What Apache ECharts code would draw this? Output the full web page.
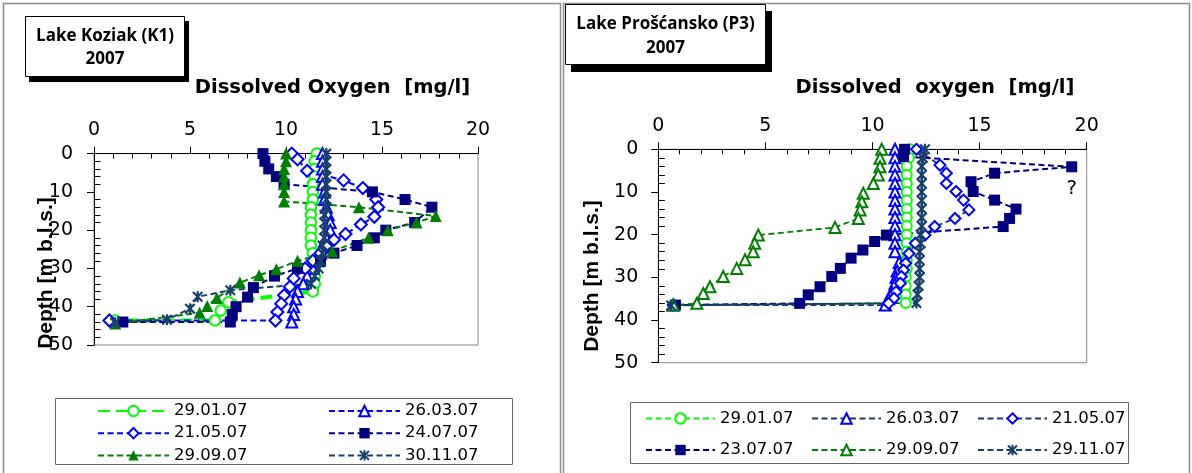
<!DOCTYPE html>
<html><head><meta charset="utf-8">
<script src="https://cdn.jsdelivr.net/npm/echarts@6/dist/echarts.min.js"></script>
<style>html,body{margin:0;padding:0;background:#fff}#c{width:1192px;height:473px}</style>
</head><body><div id="c"></div>
<script>
// ---------- axis ticks ----------
const doTicks = [0, 5, 10, 15, 20];
const depthTicks = [0, 10, 20, 30, 40, 50];
const doMinorSplit = 5;     // minor tick every 1 mg/l
const depthMinorSplit = 5;  // minor tick every 2 m

// ---------- Lake Koziak (K1) 2007 ----------
const k1Names = ['29.01.07', '26.03.07', '21.05.07', '24.07.07', '29.09.07', '30.11.07'];
const k1_2901_depth = [0,2,4,6,8,10,12,14,16,18,20,22,24,26,28,30,32,34,36,38.8,41,43.6,43.6];
const k1_2901_do    = [11.6,11.5,11.5,11.5,11.4,11.4,11.4,11.3,11.3,11.3,11.3,11.3,11.3,11.4,11.4,11.5,11.5,11.5,11.4,7.0,6.6,6.3,1.1];
const k1_2603_depth = [0,2,4,6,8,10,12,14,16,18,20,22,24,26,28,30,32,34,36,38,40,42,44];
const k1_2603_do    = [11.9,11.9,11.9,11.9,11.9,12.0,12.0,12.1,12.2,12.3,12.3,12.1,11.9,11.8,11.7,11.4,11.1,10.9,10.6,10.5,10.4,10.4,10.3];
const k1_2105_depth = [0,1.5,4.5,7,9,12,14,16.5,18.5,21,22.5,24.2,26,28,30,32.6,34.8,37,39.2,41.4,43.6,43.6];
const k1_2105_do    = [10.3,10.6,11.1,13.0,14.0,14.7,14.8,14.6,13.9,13.1,12.5,12.1,11.8,11.4,11.0,10.4,10.2,9.9,9.75,9.55,9.45,0.8];
const k1_2407_depth = [0,2,4,6,8,10,12,14,18,20,22,24,26,28,30,32,35,37.5,40,42,44,44];
const k1_2407_do    = [8.8,8.9,9.1,9.5,9.9,14.5,16.2,17.6,16.7,15.2,14.6,13.7,12.5,11.8,10.6,9.4,8.3,8.0,7.4,7.2,7.1,1.5];
const k1_2909_depth = [0,2,4,6,8,10,12.5,14,16.3,18,20,22,25.5,28,30.2,31.8,33.7,37.7,39.8,41.6,44.4];
const k1_2909_do    = [10.0,10.0,9.9,9.9,9.9,9.9,9.9,13.8,17.8,16.8,15.3,14.3,12.4,10.6,9.5,8.6,7.6,6.4,5.9,5.5,1.1];
const k1_3011_depth = [0,2,4,6,8,10,12,14,16,18,20,22,24,26,28,30,32,34,35.7,37.4,40.5,43.4,44.2];
const k1_3011_do    = [12.1,12.1,12.1,12.1,12.1,12.1,12.1,12.1,12.0,12.0,12.0,12.0,11.9,11.9,11.8,11.7,11.5,11.3,7.1,5.4,5.0,3.8,1.1];

// ---------- Lake Prošćansko (P3) 2007 ----------
const p3Names = ['29.01.07', '26.03.07', '21.05.07', '23.07.07', '29.09.07', '29.11.07'];
const p3_2901_depth = [0,2,4,6,8,10,12,14,16,18,20,22,24,26,28,30,32,34,36,36.5];
const p3_2901_do    = [11.75,11.7,11.6,11.6,11.6,11.6,11.6,11.6,11.6,11.6,11.6,11.6,11.6,11.6,11.6,11.55,11.55,11.55,11.55,0.7];
const p3_2603_depth = [0,2,4,6,8,10,12,14,16,18,20,22,24,26.5,28.5,30,31.5,33.5,35,36.5,36.5];
const p3_2603_do    = [11.05,11.05,11.05,11.05,11.05,11.05,11.05,11.05,11.05,11.05,11.05,11.05,11.05,11.25,11.15,11.1,11.05,10.9,10.75,10.6,0.7];
const p3_2105_depth = [0,3.7,5.6,8,9.9,11.9,14.2,16.2,18.1,20.1,22,24.4,26.7,28.3,29.8,31.4,33.4,34.9,36.1,36.5];
const p3_2105_do    = [12.05,13.15,13.45,13.45,13.9,14.25,14.5,13.85,12.9,12.45,12.0,11.7,11.55,11.45,11.35,11.3,11.1,11.0,10.75,0.7];
const p3_2307_depth = [0,1.7,4.1,5.6,7.6,9.9,11.9,14,16.2,18.1,20.1,21.6,23.6,25.5,27.9,29.8,32.2,34.1,36.1,36.5];
const p3_2307_do    = [11.5,11.45,19.3,15.7,14.6,14.7,15.7,16.7,16.4,16.1,10.65,10.1,9.55,9.0,8.5,8.1,7.55,7.0,6.6,0.8];
const p3_2909_depth = [0,2.1,4.1,6,8,10.3,12.3,14.2,16.2,18.3,20.1,22,24,25.9,27.9,29.8,32.2,33.8,36.1,36.5];
const p3_2909_do    = [10.43,10.35,10.35,10.27,10.04,9.57,9.5,9.42,9.34,8.25,4.67,4.5,4.43,4.05,3.66,3.03,2.41,2.1,1.8,0.7];
const p3_2911_depth = [0,2,4,6,8,10,12,14,16,18,20,22,24,26,28,30,32,34,36,36.6];
const p3_2911_do    = [12.45,12.35,12.3,12.3,12.3,12.3,12.3,12.3,12.3,12.3,12.25,12.25,12.2,12.2,12.2,12.2,12.15,12.1,12.05,0.6];
const p3QueryIndex = 2;   // questionable 23.07.07 value
const p3QueryText = '?';

// ---------- styling ----------
const FONT = 'DejaVu Sans';
const STAR = 'path://M4 0L6 0L6 10L4 10Z M1.4 0L10 8.6L8.6 10L0 1.4Z M8.6 0L10 1.4L1.4 10L0 8.6Z';
const LIME = '#00ff00', BLUE = '#0000ff', NAVY = '#000080', GREEN = '#008000', SLATE = '#17406d', DARKLINE = '#1f3864';

function pairs(xs, ys) { return xs.map((x, i) => [x, ys[i]]); }

function mk(prefix, name, grid, xs, ys, symbol, size, mcolor, lcolor, lwidth, dash, empty) {
  return {
    name: prefix + name, type: 'line', xAxisIndex: grid * 2, yAxisIndex: grid * 2,
    data: pairs(xs, ys), symbol: symbol, symbolSize: size, showSymbol: true, clip: false,
    lineStyle: { color: lcolor, width: lwidth, type: dash },
    itemStyle: { color: mcolor, borderColor: mcolor, borderWidth: empty ? 1.8 : 0, opacity: 1 },
    emphasis: { disabled: true }, animation: false
  };
}

const D = [6, 3.5];
const series = [
  mk('K ', k1Names[0], 0, k1_2901_do, k1_2901_depth, 'emptyCircle', 10.5, LIME, LIME, 4, [12, 6], true),
  mk('K ', k1Names[1], 0, k1_2603_do, k1_2603_depth, 'emptyTriangle', 11, BLUE, BLUE, 2, D, true),
  mk('K ', k1Names[2], 0, k1_2105_do, k1_2105_depth, 'emptyDiamond', 12, BLUE, BLUE, 2, D, true),
  mk('K ', k1Names[3], 0, k1_2407_do, k1_2407_depth, 'rect', 11, NAVY, NAVY, 2, D, false),
  mk('K ', k1Names[4], 0, k1_2909_do, k1_2909_depth, 'triangle', 12, GREEN, GREEN, 2, D, false),
  mk('K ', k1Names[5], 0, k1_3011_do, k1_3011_depth, STAR, 11, SLATE, SLATE, 2, D, false),
  mk('P ', p3Names[0], 1, p3_2901_do, p3_2901_depth, 'emptyCircle', 10, LIME, LIME, 1.8, D, true),
  mk('P ', p3Names[1], 1, p3_2603_do, p3_2603_depth, 'emptyTriangle', 11, BLUE, DARKLINE, 1.8, D, true),
  mk('P ', p3Names[2], 1, p3_2105_do, p3_2105_depth, 'emptyDiamond', 11, BLUE, DARKLINE, 1.8, D, true),
  mk('P ', p3Names[3], 1, p3_2307_do, p3_2307_depth, 'rect', 11, NAVY, NAVY, 2, D, false),
  mk('P ', p3Names[4], 1, p3_2909_do, p3_2909_depth, 'emptyTriangle', 11, GREEN, GREEN, 1.8, D, true),
  mk('P ', p3Names[5], 1, p3_2911_do, p3_2911_depth, STAR, 11, SLATE, SLATE, 1.8, D, false)
];
// annotate questionable value
const q = series[9].data[p3QueryIndex];
series[9].data[p3QueryIndex] = { value: q, label: { show: true, formatter: p3QueryText, position: 'bottom', distance: 6, fontFamily: FONT, fontSize: 20, color: '#000' } };

const grids = [
  { left: 94, top: 153.6, width: 384, height: 191.4 },
  { left: 658.3, top: 149.3, width: 428.4, height: 213.4 }
];

const xAxes = [], yAxes = [];
grids.forEach((g, gi) => {
  const labelMarginX = 14, labelMarginY = gi === 0 ? 21 : 20;
  const xMin = doTicks[0], xMax = doTicks[doTicks.length - 1], xInt = doTicks[1] - doTicks[0];
  const yMin = depthTicks[0], yMax = depthTicks[depthTicks.length - 1], yInt = depthTicks[1] - depthTicks[0];
  xAxes.push({
    gridIndex: gi, type: 'value', position: 'top', min: xMin, max: xMax, interval: xInt,
    axisLine: { show: true, onZero: false, lineStyle: { color: '#000', width: 1 } },
    axisTick: { show: true, inside: false, length: 7, lineStyle: { color: '#000', width: 1 } },
    axisLabel: { show: true, margin: labelMarginX, fontFamily: FONT, fontSize: 19, color: '#000' },
    splitLine: { show: false }
  });
  xAxes.push({
    gridIndex: gi, type: 'value', position: 'top', min: xMin, max: xMax, interval: xInt,
    axisLine: { show: true, onZero: false, lineStyle: { color: 'rgba(0,0,0,0)' } },
    axisTick: { show: false, inside: true },
    minorTick: { show: true, splitNumber: doMinorSplit, length: 5, lineStyle: { color: '#000', width: 1 } },
    axisLabel: { show: false }, splitLine: { show: false }, minorSplitLine: { show: false }
  });
  yAxes.push({
    gridIndex: gi, type: 'value', position: 'left', inverse: true, min: yMin, max: yMax, interval: yInt,
    axisLine: { show: true, onZero: false, lineStyle: { color: '#000', width: 1 } },
    axisTick: { show: true, inside: false, length: 7, lineStyle: { color: '#000', width: 1 } },
    axisLabel: { show: true, margin: labelMarginY, fontFamily: FONT, fontSize: 19, color: '#000' },
    splitLine: { show: false }
  });
  yAxes.push({
    gridIndex: gi, type: 'value', position: 'left', inverse: true, min: yMin, max: yMax, interval: yInt,
    axisLine: { show: true, onZero: false, lineStyle: { color: 'rgba(0,0,0,0)' } },
    axisTick: { show: false, inside: true },
    minorTick: { show: true, splitNumber: depthMinorSplit, length: 6.5, lineStyle: { color: '#000', width: 1 } },
    axisLabel: { show: false }, splitLine: { show: false }, minorSplitLine: { show: false }
  });
});

function legend(left, top, names, prefix, gap, width) {
  return {
    orient: 'vertical', left: left, top: top, itemWidth: width, itemHeight: 13, itemGap: gap,
    selectedMode: false, padding: 0,
    data: names.map(n => prefix + n),
    formatter: n => n.slice(prefix.length),
    textStyle: { fontFamily: FONT, fontSize: 16.5, color: '#000' }
  };
}

const legends = [
  legend(97, 402.5, [k1Names[0], k1Names[2], k1Names[4]], 'K ', 5.2, 71),
  legend(328, 402.5, [k1Names[1], k1Names[3], k1Names[5]], 'K ', 5.2, 71),
  legend(645, 410, [p3Names[0], p3Names[3]], 'P ', 14.5, 69),
  legend(811, 410, [p3Names[1], p3Names[4]], 'P ', 14.5, 69),
  legend(977, 410, [p3Names[2], p3Names[5]], 'P ', 14.5, 69)
];

function boxText(cx, cy, txt) {
  return { type: 'text', x: cx, y: cy, z: 12, style: { text: txt, x: 0, y: 0, align: 'center', verticalAlign: 'middle', font: 'bold 17px "Open Sans"', fill: '#000' } };
}

const graphic = [
  { type: 'rect', shape: { x: 3.5, y: 3.5, width: 557, height: 480 }, style: { fill: 'none', stroke: '#8c8c8c', lineWidth: 1.5 }, z: 0, silent: true },
  { type: 'rect', shape: { x: 563.5, y: 3.5, width: 626, height: 480 }, style: { fill: 'none', stroke: '#8c8c8c', lineWidth: 1.5 }, z: 0, silent: true },
  // title boxes
  { type: 'rect', shape: { x: 29, y: 21, width: 160, height: 61 }, style: { fill: '#000' }, z: 10 },
  { type: 'rect', shape: { x: 25.5, y: 16.5, width: 159, height: 60 }, style: { fill: '#fff', stroke: '#000', lineWidth: 1 }, z: 11 },
  boxText(105, 36, 'Lake Koziak (K1)'),
  boxText(105, 59, '2007'),
  { type: 'rect', shape: { x: 571, y: 11, width: 201, height: 61 }, style: { fill: '#000' }, z: 10 },
  { type: 'rect', shape: { x: 565.5, y: 4.5, width: 200, height: 60 }, style: { fill: '#fff', stroke: '#000', lineWidth: 1 }, z: 11 },
  boxText(665.5, 24, 'Lake Prošćansko (P3)'),
  boxText(665.5, 48.5, '2007'),
  // axis titles
  { type: 'text', x: 332.5, y: 88, z: 5, style: { text: 'Dissolved Oxygen  [mg/l]', x: 0, y: 0, align: 'center', verticalAlign: 'middle', font: 'bold 19.5px "DejaVu Sans"', fill: '#000' } },
  { type: 'text', x: 935, y: 88, z: 5, style: { text: 'Dissolved  oxygen  [mg/l]', x: 0, y: 0, align: 'center', verticalAlign: 'middle', font: 'bold 19.5px "DejaVu Sans"', fill: '#000' } },
  { type: 'text', x: 46, y: 273, rotation: Math.PI / 2, z: 5, style: { text: 'Depth [m b.l.s.]', x: 0, y: 0, align: 'center', verticalAlign: 'middle', font: 'bold 21px "Liberation Sans"', fill: '#000' } },
  { type: 'text', x: 592, y: 276, rotation: Math.PI / 2, z: 5, style: { text: 'Depth [m b.l.s.]', x: 0, y: 0, align: 'center', verticalAlign: 'middle', font: 'bold 21px "Liberation Sans"', fill: '#000' } },
  // legend frames
  { type: 'rect', shape: { x: 55.5, y: 398.5, width: 457, height: 66 }, style: { fill: 'none', stroke: '#666', lineWidth: 1 }, z: 1 },
  { type: 'rect', shape: { x: 630.5, y: 402.5, width: 498, height: 61 }, style: { fill: 'none', stroke: '#666', lineWidth: 1 }, z: 1 }
];

const chart = echarts.init(document.getElementById('c'), null, { renderer: 'canvas' });
chart.setOption({
  animation: false,
  backgroundColor: '#fff',
  grid: grids.map(g => Object.assign({ show: true, borderColor: '#888', borderWidth: 1, backgroundColor: 'transparent', containLabel: false }, g)),
  xAxis: xAxes,
  yAxis: yAxes,
  legend: legends,
  graphic: graphic,
  series: series
});
</script></body></html>
